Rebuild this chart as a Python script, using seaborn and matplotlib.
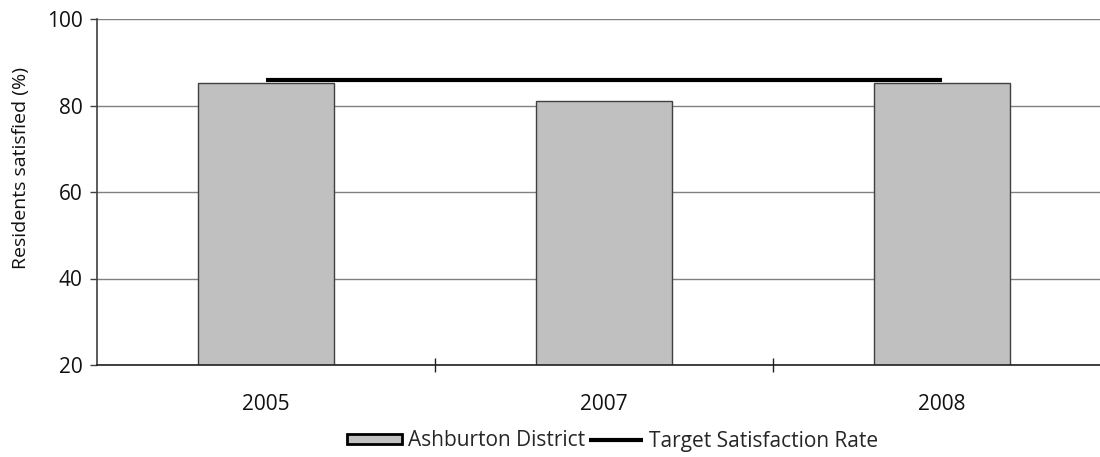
import numpy as np
import pandas as pd
import matplotlib
matplotlib.use("Agg")
import matplotlib.pyplot as plt
from matplotlib.patches import Patch
from matplotlib.lines import Line2D
from matplotlib.ticker import FixedLocator
import seaborn as sns

# Survey results
years = ["2005", "2007", "2008"]
satisfied = [85.2, 81.0, 85.2]
target = [85.8, 85.8, 85.8]
y_ticks = [20, 40, 60, 80, 100]

sns.set_theme(style="white")
plt.rcParams["font.family"] = ["Open Sans", "DejaVu Sans"]

df = pd.DataFrame({"Year": years, "Satisfied": satisfied})

fig = plt.figure(figsize=(11, 4.57), dpi=100)
ax = fig.add_axes([97 / 1100, 92 / 457, 1014 / 1100, 346 / 457])

sns.barplot(data=df, x="Year", y="Satisfied", color="#c0c0c0", width=0.4,
            edgecolor="#404040", linewidth=1.0, saturation=1, ax=ax, zorder=2)
sns.lineplot(x=np.arange(len(years)), y=target, color="black", linewidth=3.0,
             solid_capstyle="butt", ax=ax, zorder=3)

ax.set_xlim(-0.5, len(years) - 0.5)
ax.set_ylim(20, 100)
ax.set_yticks(y_ticks)
ax.yaxis.grid(True, color="#808080", linewidth=1.0, zorder=0)
ax.set_axisbelow(True)

for side in ["top", "right"]:
    ax.spines[side].set_visible(False)
ax.spines["left"].set_color("#404040")
ax.spines["bottom"].set_color("#202020")
ax.spines["left"].set_linewidth(1.2)
ax.spines["bottom"].set_linewidth(1.2)

ax.tick_params(axis="y", which="major", left=True, direction="out", length=5,
               width=1, color="#404040", pad=5.5, labelsize=15, labelcolor="#111111")
ax.tick_params(axis="x", which="major", bottom=False, pad=15, labelsize=15,
               labelcolor="#111111")
ax.xaxis.set_minor_locator(FixedLocator([0.5, 1.5]))
ax.tick_params(axis="x", which="minor", bottom=True, direction="inout",
               length=10, width=1, color="#202020")

ax.set_xlabel("")
ax.set_ylabel("Residents satisfied (%)", fontsize=14, color="#111111")
ax.yaxis.set_label_coords(-0.066, 0.57)

handles = [
    Patch(facecolor="#c0c0c0", edgecolor="black", linewidth=2),
    Line2D([0], [0], color="black", linewidth=3.0, solid_capstyle="butt"),
]
fig.legend(handles, ["Ashburton District", "Target Satisfaction Rate"],
           loc="center", bbox_to_anchor=(613 / 1100, 1 - 441 / 457), ncol=2,
           frameon=False, fontsize=15, handlelength=2.6, handleheight=0.42,
           handletextpad=0.3, columnspacing=0.2)

fig.savefig("out.png", dpi=100)
